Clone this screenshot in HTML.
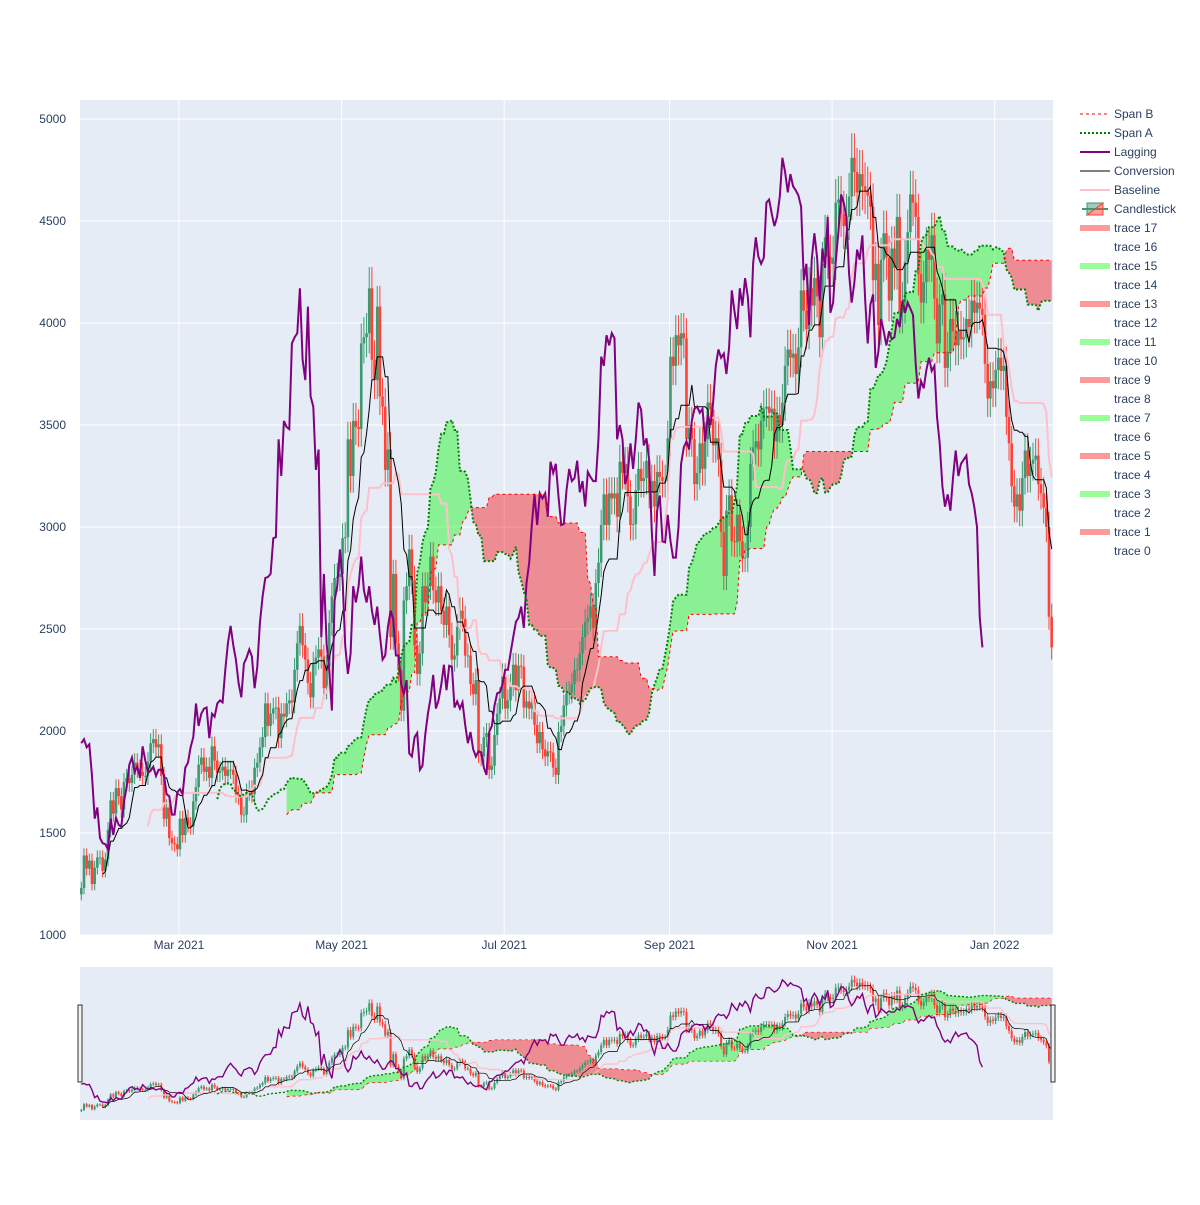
<!DOCTYPE html>
<html><head><meta charset="utf-8"><style>
body{margin:0;background:#fff;font-family:"Liberation Sans",sans-serif}
svg text{font-family:"Liberation Sans",sans-serif;fill:#2a3f5f;font-size:12px}
</style></head><body>
<svg id="chart" width="1200" height="1200" xmlns="http://www.w3.org/2000/svg">
<defs>
<clipPath id="clipMain"><rect x="80" y="100" width="973" height="835"/></clipPath>
<clipPath id="clipMini"><rect x="80" y="967" width="973" height="153"/></clipPath>
</defs>
<rect x="80" y="100" width="973" height="835" fill="#E5ECF6"/>
<g id="grid"></g>
<g id="main" clip-path="url(#clipMain)"></g>
<g id="axes"></g>
<rect x="80" y="967" width="973" height="153" fill="#E5ECF6"/>
<g id="mini" clip-path="url(#clipMini)"></g>
<rect x="78" y="1005" width="4" height="77" fill="#f2f2f2" stroke="#333" stroke-width="1"/>
<rect x="1051" y="1005" width="4" height="77" fill="#f2f2f2" stroke="#333" stroke-width="1"/>
<g id="legend"></g>
</svg>
<script>
const closeJan21=[1230,1390,1325,1365,1250,1330,1380,1380,1315];
const closeFeb=[1370,1515,1660,1595,1720,1680,1615,1750,1770,1745,1785,1845,1815,1800,1780,1780,1850,1940,1960,1920,1935,1780,1570,1625,1475,1450,1445,1420];
const closeMar=[1570,1490,1575,1540,1530,1655,1725,1835,1870,1800,1825,1770,1925,1855,1795,1805,1825,1780,1810,1810,1785,1690,1680,1590,1590,1700,1715,1690,1820,1845,1920];
const closeApr=[1970,2135,2025,2085,2110,2115,1965,2085,2070,2135,2150,2140,2300,2430,2515,2420,2350,2235,2165,2330,2360,2400,2365,2210,2315,2530,2660,2750,2755,2770];
const closeMay=[2945,2950,3430,3250,3520,3490,3480,3900,3930,3950,4170,3820,3720,4080,3640,3590,3280,3380,2460,2770,2430,2300,2100,2640,2710,2890,2740,2420,2280,2380,2710];
const closeJun=[2630,2710,2855,2690,2630,2710,2590,2520,2610,2470,2350,2370,2510,2590,2550,2370,2370,2230,2180,2250,1890,1875,1970,1990,1810,1830,1980,2085,2160,2275];
const closeJul=[2110,2150,2225,2325,2200,2320,2315,2115,2145,2110,2140,2030,1940,1995,1910,1875,1900,1895,1820,1785,1995,2025,2125,2185,2190,2230,2300,2300,2380,2460,2535];
const closeAug=[2555,2610,2505,2725,2825,3010,3160,3010,3165,3140,3165,3050,3320,3265,3310,3150,3010,3015,3180,3285,3225,3240,3325,3170,3225,3100,3270,3245,3225,3225,3435];
const closeSep=[3835,3790,3940,3890,3950,3925,3430,3500,3430,3210,3265,3410,3285,3430,3610,3575,3400,3435,3330,2975,2760,3080,3155,2930,2925,3060,2930,2850,2850,3000];
const closeOct=[3310,3390,3420,3380,3520,3580,3590,3560,3580,3420,3550,3500,3610,3790,3870,3830,3850,3750,3880,4160,4060,3970,4170,4085,4220,4130,3930,4290,4420,4325,4290];
const closeNov=[4320,4590,4605,4535,4475,4520,4620,4810,4740,4640,4730,4670,4650,4625,4570,4210,4290,3990,4310,4440,4320,4110,4365,4270,4520,4050,4100,4300,4445,4630];
const closeDec=[4590,4520,4240,4100,4200,4360,4310,4430,4120,3900,4090,4140,3780,3860,4020,3960,3890,3960,3920,3930,4020,3980,4110,4050,4100,4070,4040,3800,3630,3715,3680];
const closeJan22=[3770,3830,3765,3790,3540,3410,3200,3100,3160,3080,3240,3375,3250,3310,3330,3350,3210,3165,3095,3000,2560,2410];
const yTicks=[1000,1500,2000,2500,3000,3500,4000,4500,5000];
const xTickLabels=["Mar 2021","May 2021","Jul 2021","Sep 2021","Nov 2021","Jan 2022"];
const xTickDays=[37,98,159,221,282,343];

const close=[].concat(closeJan21,closeFeb,closeMar,closeApr,closeMay,closeJun,closeJul,closeAug,closeSep,closeOct,closeNov,closeDec,closeJan22);
const N=close.length;
const open=close.map((c,i)=>i===0?1200:close[i-1]);
const high=close.map((c,i)=>Math.max(c,open[i])*1.025);
const low=close.map((c,i)=>Math.min(c,open[i])*0.975);
function mid(i,p){if(i<p-1)return null;let h=-1e9,l=1e9;for(let k=i-p+1;k<=i;k++){h=Math.max(h,high[k]);l=Math.min(l,low[k]);}return (h+l)/2;}
const conv=close.map((c,i)=>mid(i,9));
const base=close.map((c,i)=>mid(i,26));
const spanA=new Array(N).fill(null), spanB=new Array(N).fill(null);
for(let i=0;i<N;i++){const j=i+26;if(j<N){if(conv[i]!=null&&base[i]!=null)spanA[j]=(conv[i]+base[i])/2;spanB[j]=mid(i,52);}}
const lag=new Array(N).fill(null);for(let i=26;i<N;i++)lag[i-26]=close[i];

const NS="http://www.w3.org/2000/svg";
function el(t,a,p){const e=document.createElementNS(NS,t);for(const k in a)e.setAttribute(k,a[k]);p.appendChild(e);return e;}
const X=d=>80+(d+0.5)*973/365;
const Ymain=v=>935-(v-1000)*0.204;
const Ymini=v=>1120-(v-955)/4210*153;

function draw(g,Y,mini){
  let runs=[],cur=null;
  for(let i=0;i<N;i++){
    if(spanA[i]==null||spanB[i]==null){cur=null;continue;}
    const s=spanA[i]>=spanB[i];
    if(!cur||cur.s!==s){cur={s,idx:[]};if(runs.length&&runs[runs.length-1].idx.slice(-1)[0]===i-1)cur.idx.push(i-1);runs.push(cur);}
    cur.idx.push(i);
  }
  runs.forEach((r,k)=>{
    let pts=r.idx.map(i=>X(i)+','+Y(spanA[i])).concat(r.idx.slice().reverse().map(i=>X(i)+','+Y(spanB[i])));
    const p=el('polygon',{points:pts.join(' '),fill:r.s?'rgba(0,250,0,0.4)':'rgba(250,0,0,0.4)',stroke:'none'},g);
    
    
  });
  const bw=mini?2:2.6;
  for(let i=0;i<N;i++){
    const up=close[i]>=open[i], col=up?'#3D9970':'#FF4136';
    const cg=el('g',{},g);
    
    
    el('line',{x1:X(i),x2:X(i),y1:Y(high[i]),y2:Y(low[i]),stroke:col,'stroke-width':1},cg);
    const t=Y(Math.max(open[i],close[i])),b=Y(Math.min(open[i],close[i]));
    el('rect',{x:X(i)-bw/2,y:t,width:bw,height:Math.max(b-t,0.8),fill:col},cg);
  }
  function line(arr,style,name){
    let d='',pen=false;
    arr.forEach((v,i)=>{if(v==null){pen=false;return;}d+=(pen?'L':'M')+X(i).toFixed(1)+','+Y(v).toFixed(1);pen=true;});
    const p=el('path',Object.assign({d,fill:'none'},style),g);
    
    
  }
  const s=mini?0.7:1;
  line(base,{stroke:'pink','stroke-width':2*s},'baseline-line');
  line(conv,{stroke:'black','stroke-width':1*s},'conversion-line');
  line(lag,{stroke:'purple','stroke-width':2*s},'lagging-line');
  line(spanA,{stroke:'green','stroke-width':2*s,'stroke-dasharray':'2,2'},'span-a-line');
  line(spanB,{stroke:'red','stroke-width':1*s,'stroke-dasharray':'3,3'},'span-b-line');
}
draw(document.getElementById('main'),Ymain,false);
draw(document.getElementById('mini'),Ymini,true);

const grid=document.getElementById('grid'),axes=document.getElementById('axes');
yTicks.forEach(v=>{
  const l=el('line',{x1:80,x2:1053,y1:Ymain(v),y2:Ymain(v),stroke:'#fff','stroke-width':1},grid);
  
  
  const t=el('text',{x:66,y:Ymain(v)+4,'text-anchor':'end'},axes);t.textContent=v;
  
  
});
xTickDays.forEach((d,k)=>{
  const l=el('line',{x1:X(d)-1,x2:X(d)-1,y1:100,y2:935,stroke:'#fff','stroke-width':1},grid);
  
  
  const t=el('text',{x:X(d)-1,y:949,'text-anchor':'middle'},axes);t.textContent=xTickLabels[k];
  
  
});

const leg=document.getElementById('legend');
const items=[["Span B","spanb"],["Span A","spana"],["Lagging","lag"],["Conversion","conv"],["Baseline","base"],["Candlestick","candle"]];
for(let k=17;k>=0;k--)items.push(["trace "+k,k%2?(k%4===1?"red":"green"):"none"]);
items.forEach((it,i)=>{
  const y=114+i*19;
  const g=el('g',{},leg);
  
  
  const ty=it[1];
  if(ty==='spanb')el('line',{x1:1080,x2:1110,y1:y,y2:y,stroke:'red','stroke-width':1,'stroke-dasharray':'3,3'},g);
  if(ty==='spana')el('line',{x1:1080,x2:1110,y1:y,y2:y,stroke:'green','stroke-width':2,'stroke-dasharray':'2,2'},g);
  if(ty==='lag')el('line',{x1:1080,x2:1110,y1:y,y2:y,stroke:'purple','stroke-width':2},g);
  if(ty==='conv')el('line',{x1:1080,x2:1110,y1:y,y2:y,stroke:'black','stroke-width':1},g);
  if(ty==='base')el('line',{x1:1080,x2:1110,y1:y,y2:y,stroke:'pink','stroke-width':2},g);
  if(ty==='candle'){
    el('line',{x1:1082,x2:1108,y1:y,y2:y,stroke:'#3D9970','stroke-width':2},g);
    el('polygon',{points:`1087,${y-6} 1103,${y-6} 1087,${y+6}`,fill:'rgba(61,153,112,0.5)',stroke:'#3D9970'},g);
    el('polygon',{points:`1103,${y-6} 1103,${y+6} 1087,${y+6}`,fill:'rgba(255,65,54,0.5)',stroke:'#FF4136'},g);
  }
  if(ty==='red')el('rect',{x:1080,y:y-3,width:30,height:6,fill:'rgba(250,0,0,0.4)'},g);
  if(ty==='green')el('rect',{x:1080,y:y-3,width:30,height:6,fill:'rgba(0,250,0,0.4)'},g);
  const t=el('text',{x:1114,y:y+4},g);t.textContent=it[0];
});
</script>
</body></html>
